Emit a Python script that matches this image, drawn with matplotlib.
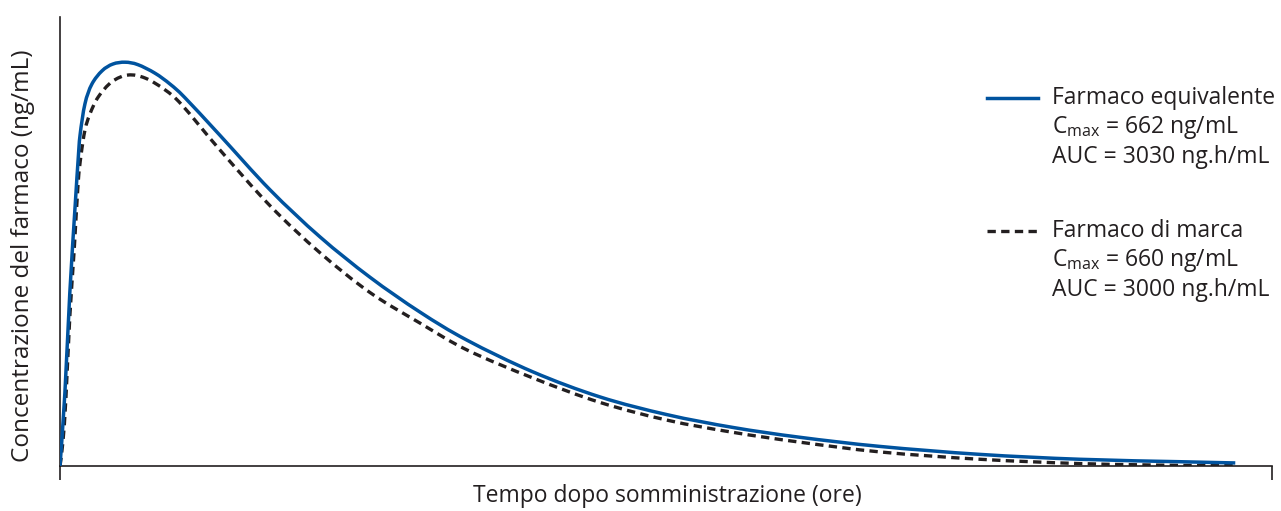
import numpy as np
import matplotlib.pyplot as plt
from matplotlib.lines import Line2D
from matplotlib.path import Path
from matplotlib.patches import PathPatch

plt.rcParams['font.family'] = ['Open Sans', 'DejaVu Sans']
plt.rcParams['mathtext.default'] = 'regular'

# tempo (ore) e concentrazione (ng/mL)
t_equiv = [0.00, 0.10, 0.20, 0.31, 0.37, 0.41, 0.51, 0.65, 0.86, 1.08, 1.33,
           1.59, 1.94, 2.25, 2.55, 3.27, 4.29, 5.31, 6.33, 7.35, 8.31, 9.66,
           11.03, 12.40, 13.75, 15.11, 16.75, 18.79, 20.83, 22.88, 24.00]
c_equiv = [0, 120, 283, 427, 501, 542, 593, 625, 647, 658, 661,
           657, 643, 625, 603, 541, 452, 375, 309, 252, 206, 154,
           113, 84, 63, 47, 32, 19, 11, 7, 5]

t_marca = [0.00, 0.06, 0.12, 0.20, 0.29, 0.37, 0.43, 0.51, 0.61, 0.78, 1.06,
           1.39, 1.74, 2.14, 2.49, 3.27, 4.29, 5.31, 6.33, 7.35, 8.31, 9.66,
           11.03, 12.40, 13.75, 15.11, 16.75, 18.79, 20.83, 22.88, 24.00]
c_marca = [0, 40, 110, 244, 354, 463, 509, 550, 576, 604, 629,
           640, 635, 616, 591, 517, 426, 349, 284, 234, 190, 144,
           104, 75, 55, 39, 23, 11, 4, 1, 1]

legend_rows = [
    ["Farmaco equivalente", "C$_{max}$ = 662 ng/mL", "AUC = 3030 ng.h/mL"],
    ["Farmaco di marca", "C$_{max}$ = 660 ng/mL", "AUC = 3000 ng.h/mL"],
]

blue = '#00539f'
dark = '#231f20'
W, H = 1281, 511


def smooth_path(x, y):
    # curva morbida (Catmull-Rom -> Bezier) che passa per i punti letti
    p = np.column_stack([x, y]).astype(float)
    ext = np.vstack([p[0], p, p[-1]])
    verts = [p[0]]
    codes = [Path.MOVETO]
    for i in range(len(p) - 1):
        p0, p1, p2, p3 = ext[i], ext[i + 1], ext[i + 2], ext[i + 3]
        verts += [p1 + (p2 - p0) / 6, p2 - (p3 - p1) / 6, p2]
        codes += [Path.CURVE4] * 3
    return Path(verts, codes)


fig = plt.figure(figsize=(W / 100, H / 100), dpi=100)
ax = fig.add_axes([60 / W, 1 - 466 / H, 1212 / W, 449 / H])

ax.add_patch(PathPatch(smooth_path(t_marca, c_marca), fill=False, edgecolor=dark,
                       lw=2.4, linestyle=(0, (2.5, 1.6)), zorder=2))
ax.add_patch(PathPatch(smooth_path(t_equiv, c_equiv), fill=False, edgecolor=blue,
                       lw=2.5, zorder=3))

ax.set_xlim(0, 24.75)
ax.set_ylim(0, 735)
for s in ['top', 'right']:
    ax.spines[s].set_visible(False)
for s in ['left', 'bottom']:
    ax.spines[s].set_color(dark)
    ax.spines[s].set_linewidth(1.2)
ax.set_yticks([])
ax.set_xticks([0, 24.75])
ax.set_xticklabels([])
ax.tick_params(axis='x', direction='out', length=10, width=1.2, color=dark)

fig.text(667 / W, 1 - 496 / H, "Tempo dopo somministrazione (ore)",
         ha='center', va='center', fontsize=16.5, color=dark)
fig.text(23 / W, 1 - 256 / H, "Concentrazione del farmaco (ng/mL)",
         ha='center', va='center', rotation=90, fontsize=17.5, color=dark)

# legenda manuale
styles = [dict(color=blue, lw=2.5), dict(color=dark, lw=2.4, dashes=(2.5, 1.6))]
tops = [98, 231]
for rows, top, st in zip(legend_rows, tops, styles):
    yf = 1 - top / H
    fig.add_artist(Line2D([987 / W, 1038 / W], [yf, yf], transform=fig.transFigure, **st))
    for i, txt in enumerate(rows):
        fig.text(1052 / W, 1 - (top + i * 29.5) / H, txt, ha='left', va='center',
                 fontsize=16.5, color=dark)

fig.savefig('out.png', dpi=100)
